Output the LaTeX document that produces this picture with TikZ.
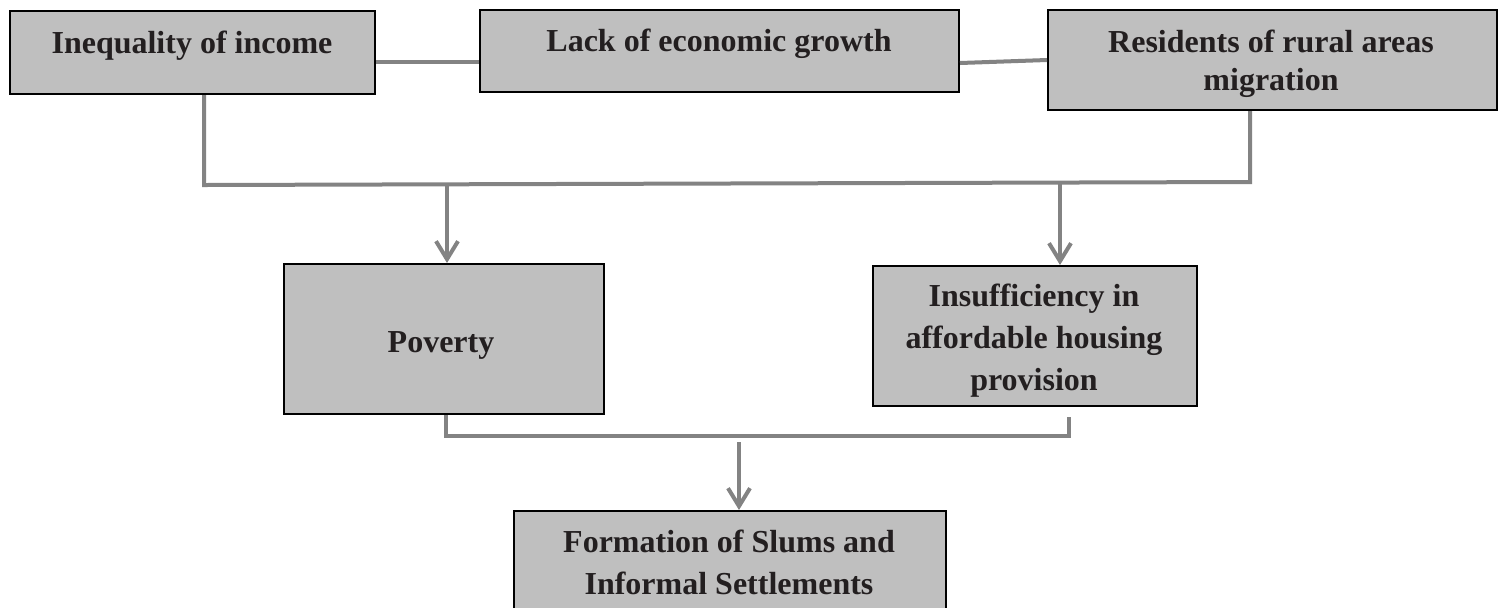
\documentclass[tikz,border=0pt]{standalone}
\usepackage{fontspec}
\setmainfont{Liberation Serif}
\usetikzlibrary{arrows.meta,calc}
\definecolor{boxfill}{RGB}{191,191,191}
\definecolor{linegray}{RGB}{131,131,131}
\definecolor{txt}{RGB}{35,31,32}
\begin{document}
\begin{tikzpicture}[x=0.5pt,y=-0.5pt,
  box/.style={draw=black,line width=1pt,fill=boxfill,inner sep=0pt,anchor=north west},
  lbl/.style={font=\bfseries\fontsize{16}{21}\selectfont,text=txt,align=center,inner sep=0pt,anchor=base},
  conn/.style={draw=linegray,line width=2pt},
  arr/.style={conn,-{Straight Barb[length=9pt,width=11pt,line width=2pt]}}]
\useasboundingbox (0,0) rectangle (1504,607);
\clip (0,0) rectangle (1504,607);
% boxes
\node[box,minimum width=182.5pt,minimum height=41.5pt] (ineq) at (9,10) {};
\node[box,minimum width=239.5pt,minimum height=41pt] (lack) at (479,9) {};
\node[box,minimum width=224.5pt,minimum height=50pt] (res) at (1047,9) {};
\node[box,minimum width=160pt,minimum height=75pt] (pov) at (283,263) {};
\node[box,minimum width=162pt,minimum height=70pt] (ins) at (872,265) {};
\node[box,minimum width=216pt,minimum height=65pt] (form) at (513,510) {};
% texts (anchor=base is the baseline of the last line)
\node[lbl] (ineqT) at (192,53) {Inequality of income};
\node[lbl] (lackT) at (719,51) {Lack of economic growth};
\node[lbl,font=\bfseries\fontsize{16}{19}\selectfont] (resT) at (1271,90) {Residents of rural areas\\migration};
\node[lbl] (povT) at (441,352) {Poverty};
\node[lbl] (insT) at (1034,390) {Insufficiency in\\affordable housing\\provision};
\node[lbl] (formT) at (729,594) {Formation of Slums and\\Informal Settlements};
% junction coordinates
\coordinate (jl) at (204,185);
\coordinate (jr) at (1250,182);
\coordinate (ja) at (447,185);
\coordinate (jb) at (1060,184);
\coordinate (bl) at (446,436);
\coordinate (br) at (1069,436);
\coordinate (bc) at (739,442);
% connectors
\draw[conn] (ineq.east |- 0,62) -- (lack.west |- 0,62);
\draw[conn] (lack.east |- 0,63) -- (res.west |- 0,60);
\draw[conn] (ineq.south -| jl) -- (jl) -- (jr) -- (res.south -| jr);
\draw[arr] (ja) -- (pov.north -| ja);
\draw[arr] (jb) -- (ins.north -| jb);
\draw[conn] (pov.south -| bl) -- (bl) -- (br) -- ($(ins.south -| br)+(0,10)$);
\draw[arr] (bc) -- (form.north -| bc);
\end{tikzpicture}
\end{document}
